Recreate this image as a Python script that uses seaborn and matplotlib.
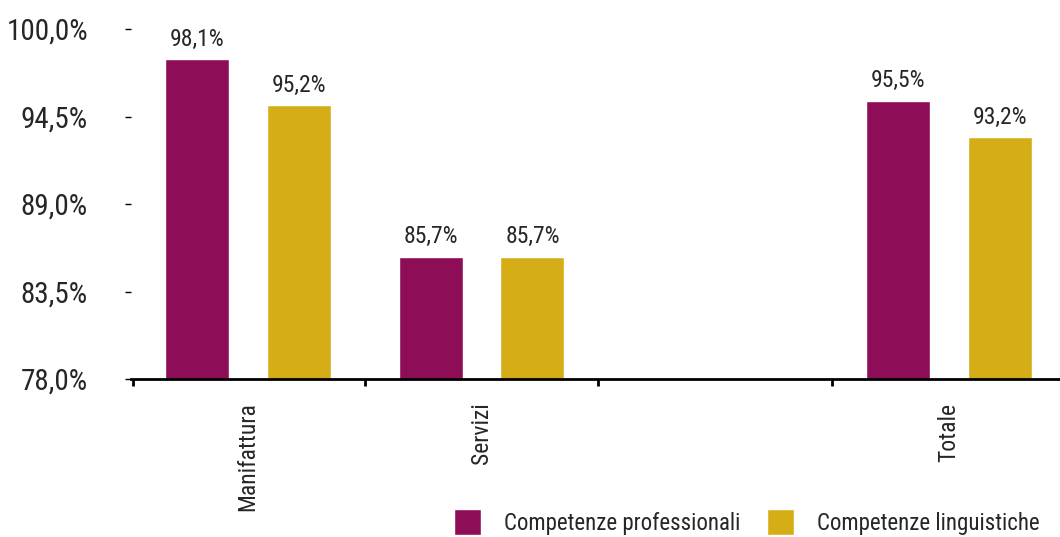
import matplotlib
matplotlib.use("Agg")
import matplotlib.pyplot as plt
from matplotlib import font_manager
from matplotlib.ticker import FixedLocator
import pandas as pd
import seaborn as sns

# dati
settori = ["Manifattura", "Servizi", "Totale"]
professionali = [98.1, 85.7, 95.5]
linguistiche = [95.2, 85.7, 93.2]
ordine = ["Manifattura", "Servizi", " ", "Totale"]
serie = ["Competenze professionali", "Competenze linguistiche"]
colori = ["#8D0E56", "#D5AD17"]
y_ticks = [78.0, 83.5, 89.0, 94.5, 100.0]

df = pd.DataFrame({
    "settore": settori * 2,
    "serie": [serie[0]] * 3 + [serie[1]] * 3,
    "valore": professionali + linguistiche,
})

sns.set_style("white")
# font stretto, se disponibile
nomi = {f.name for f in font_manager.fontManager.ttflist}
famiglia = "DejaVu Sans"
for cand in ["Liberation Sans Narrow", "DejaVu Sans Condensed", "Roboto Condensed"]:
    if cand in nomi:
        famiglia = cand
        break
plt.rcParams["font.family"] = [famiglia, "DejaVu Sans"]

fig = plt.figure(figsize=(10.6, 5.37), dpi=100)
ax = fig.add_axes([131 / 1060, 158 / 537, 935 / 1060, 350 / 537])

sns.barplot(data=df, x="settore", y="valore", hue="serie", order=ordine,
            hue_order=serie, palette=colori, width=0.87, gap=0.37,
            saturation=1, ax=ax, legend=True)

ax.set_ylim(78, 100)
ax.set_xlim(-0.5, 3.5)
ax.set_yticks(y_ticks)
ax.set_yticklabels([f"{v:.1f}%".replace(".", ",") for v in y_ticks], fontsize=21)
ax.tick_params(axis="y", length=4, width=1, color="black", pad=27, left=True)
ax.set_xticks(range(len(ordine)))
ax.set_xticklabels(ordine, rotation=90, fontsize=17, va="top")
ax.tick_params(axis="x", length=0, pad=17)
ax.xaxis.set_minor_locator(FixedLocator([-0.49, 0.5, 1.5, 2.5]))
ax.tick_params(axis="x", which="minor", length=5, width=2, color="black", bottom=True)
ax.set_xlabel("")
ax.set_ylabel("")

for lato in ["left", "right", "top"]:
    ax.spines[lato].set_visible(False)
ax.spines["bottom"].set_linewidth(2)
ax.spines["bottom"].set_color("black")

for cont in ax.containers:
    etichette = [f"{v:.1f}%".replace(".", ",") for v in cont.datavalues]
    ax.bar_label(cont, labels=etichette, padding=6, fontsize=17)

handles, labels = ax.get_legend_handles_labels()
ax.get_legend().remove()
fig.legend(handles, labels, loc="lower right", bbox_to_anchor=(1.0, -0.035),
           ncol=2, frameon=False, fontsize=16.5, handlelength=1.15, handleheight=1.35,
           columnspacing=1.2, handletextpad=1.0)

fig.savefig("out.png", dpi=100)
